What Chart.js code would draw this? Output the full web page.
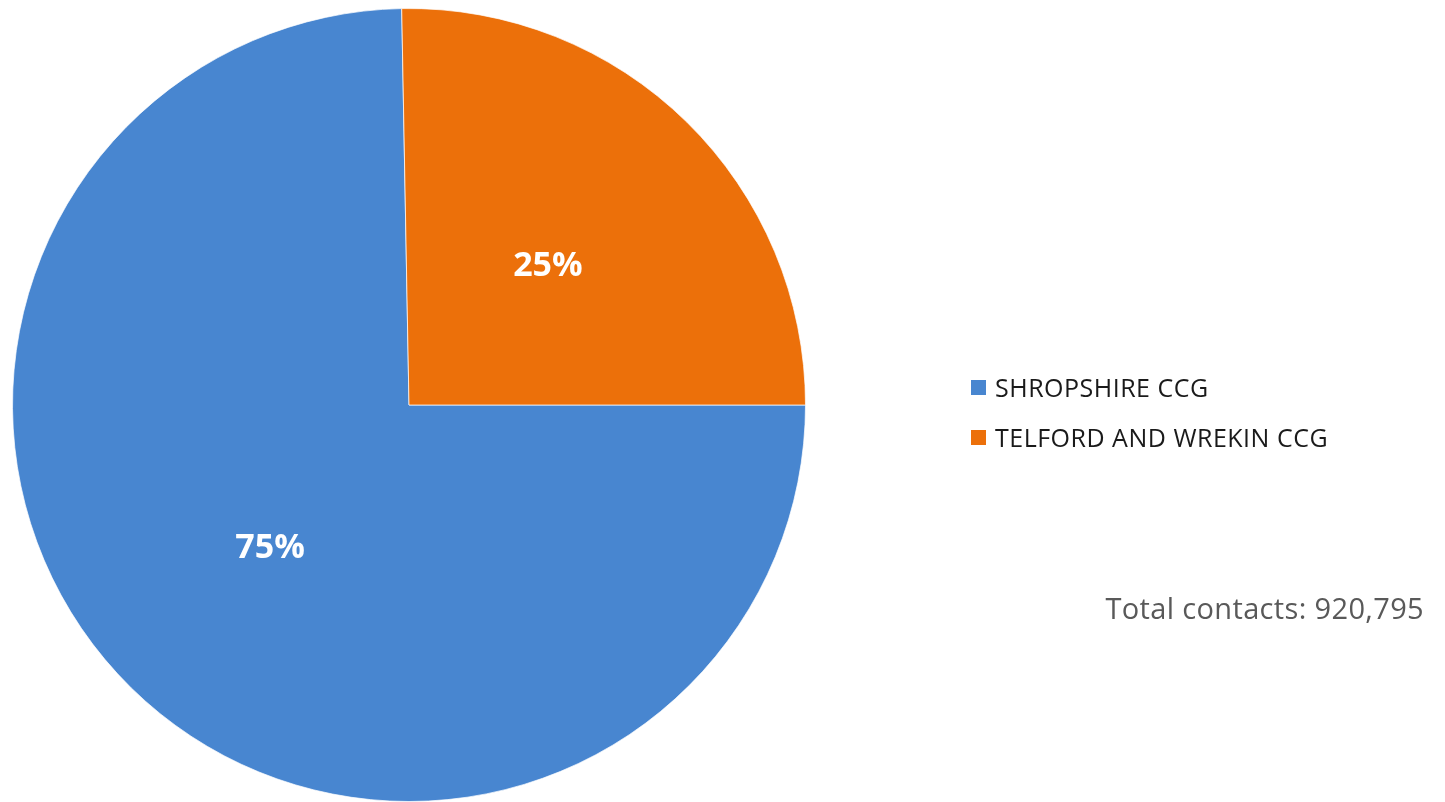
<!DOCTYPE html>
<html>
<head>
<meta charset="utf-8">
<script src="https://cdn.jsdelivr.net/npm/chart.js@4.4.1/dist/chart.umd.min.js"></script>
<style>
  html, body { margin: 0; padding: 0; background: #ffffff; }
  #wrap { position: relative; width: 1445px; height: 802px; overflow: hidden; }
  #c { position: absolute; left: 0; top: 0; }
  #legend { position: absolute; left: 971px; top: 368px; font-family: "Open Sans", "Noto Sans", sans-serif; font-size: 25px; letter-spacing: 0.5px; color: #1a1a1a; }
  .item { display: flex; align-items: center; height: 38px; margin-bottom: 12px; white-space: nowrap; }
  .sw { width: 15px; height: 15px; margin-right: 9px; flex: none; }
  #total { position: absolute; right: 21px; top: 588px; font-family: "Open Sans", "Noto Sans", sans-serif; font-size: 29px; letter-spacing: 0.35px; color: #595959; white-space: nowrap; }
</style>
</head>
<body>
<div id="wrap">
  <canvas id="c" width="1445" height="802"></canvas>
  <div id="legend"></div>
  <div id="total"></div>
</div>
<script>
const categories = ["SHROPSHIRE CCG", "TELFORD AND WREKIN CCG"];
const contacts = [687900, 232895];
const colors = ["#4886D0", "#EC700A"];
const totalLabel = "Total contacts: ";

const total = contacts.reduce((a, b) => a + b, 0);

const pctLabels = {
  id: 'pctLabels',
  afterDatasetsDraw(chart) {
    const ctx = chart.ctx;
    const meta = chart.getDatasetMeta(0);
    ctx.save();
    ctx.font = 'bold 34px "Open Sans", "Noto Sans", sans-serif';
    ctx.fillStyle = '#ffffff';
    ctx.textAlign = 'center';
    ctx.textBaseline = 'alphabetic';
    meta.data.forEach((arc, i) => {
      const p = arc.tooltipPosition();
      const v = chart.data.datasets[0].data[i];
      ctx.fillText(Math.round(v / total * 100) + '%', p.x, p.y + 12);
    });
    ctx.restore();
  }
};

new Chart(document.getElementById('c'), {
  type: 'pie',
  data: {
    labels: categories,
    datasets: [{
      data: contacts,
      backgroundColor: colors,
      borderColor: 'rgba(255,255,255,0.7)',
      borderWidth: 1
    }]
  },
  options: {
    responsive: false,
    animation: false,
    rotation: 90,
    layout: { padding: { left: 12, top: 8, right: 639, bottom: 0 } },
    plugins: {
      legend: { display: false },
      tooltip: { enabled: false }
    }
  },
  plugins: [pctLabels]
});

const legendEl = document.getElementById('legend');
categories.forEach((name, i) => {
  const item = document.createElement('div');
  item.className = 'item';
  const sw = document.createElement('span');
  sw.className = 'sw';
  sw.style.background = colors[i];
  const t = document.createElement('span');
  t.textContent = name;
  item.appendChild(sw);
  item.appendChild(t);
  legendEl.appendChild(item);
});
document.getElementById('total').textContent = totalLabel + total.toLocaleString('en-GB');
</script>
</body>
</html>
